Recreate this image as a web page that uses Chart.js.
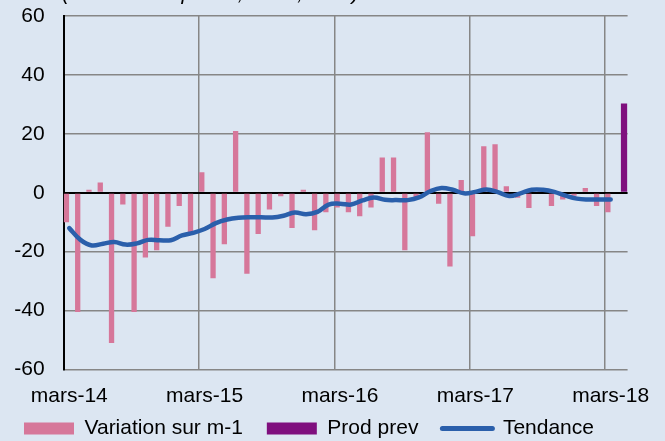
<!DOCTYPE html>
<html>
<head>
<meta charset="utf-8">
<script src="https://cdn.jsdelivr.net/npm/chart.js@4.4.0/dist/chart.umd.min.js"></script>
<style>
html,body{margin:0;padding:0;background:#dce6f2;}
canvas{display:block;}
</style>
</head>
<body>
<canvas id="c" width="665" height="441"></canvas>
<script>
const months = [
  'mars-14','avr.-14','mai-14','juin-14','juil.-14','août-14','sept.-14','oct.-14','nov.-14','déc.-14',
  'janv.-15','févr.-15','mars-15','avr.-15','mai-15','juin-15','juil.-15','août-15','sept.-15','oct.-15','nov.-15','déc.-15',
  'janv.-16','févr.-16','mars-16','avr.-16','mai-16','juin-16','juil.-16','août-16','sept.-16','oct.-16','nov.-16','déc.-16',
  'janv.-17','févr.-17','mars-17','avr.-17','mai-17','juin-17','juil.-17','août-17','sept.-17','oct.-17','nov.-17','déc.-17',
  'janv.-18','févr.-18','mars-18','avr.-18'
];
const tickLabels = ['mars-14','mars-15','mars-16','mars-17','mars-18'];

const variation = [
  -10, -40.5, 1, 3.5, -51, -4, -40.5, -22, -19.5, -11.5, -4.5, -14,
  7, -29, -17.5, 21, -27.5, -14, -5.7, -1.2, -12, 1, -12.7, -6.6,
  -5, -6.6, -8, -5, 12, 12, -19.5, -2, 20.5, -3.7, -25, 4.3,
  -14.8, 15.8, 16.5, 2.2, -1.7, -5.2, 1.5, -4.5, -2.3, -1, 1.6, -4.5,
  -6.6, null
];
const prodPrevMonth = 'avr.-18';
const prodPrevValue = 30.3;
const tendance = [
  -12, -16, -17.9, -17.3, -16.7, -17.6, -17.2, -16, -16.1, -16.1, -14.5, -13.6,
  -12.3, -10.3, -9.1, -8.5, -8.3, -8.3, -8.4, -7.8, -6.7, -7.3, -6.5, -4,
  -3.7, -4, -2.6, -1.6, -2.4, -2.5, -2.5, -1.6, 0.5, 1.6, 1.0, -0.2,
  0.3, 1.1, 0.2, -1.1, -0.2, 1.0, 1.0, 0.3, -1.0, -2.0, -2.3, -2.3,
  -2.3, null
];
const yTicks = [-60, -40, -20, 0, 20, 40, 60];
const subtitle = "(en solde d'opinion, en %, CVS)";

const prodPrev = months.map(m => m === prodPrevMonth ? prodPrevValue : null);

const FONT = 'Liberation Sans, Arial, sans-serif';
const GRID = '#868686';

const subtitlePlugin = {
  id: 'subtitleText',
  afterDraw(chart) {
    const ctx = chart.ctx;
    ctx.save();
    ctx.font = 'italic 21px ' + FONT;
    ctx.fillStyle = '#000';
    ctx.textBaseline = 'alphabetic';
    ctx.textAlign = 'left';
    ctx.fillText(subtitle, 62, 0);
    ctx.restore();
  }
};

new Chart(document.getElementById('c'), {
  type: 'bar',
  data: {
    labels: months,
    datasets: [
      {
        label: 'Variation sur m-1',
        data: variation,
        backgroundColor: '#d6779a',
        borderWidth: 0,
        categoryPercentage: 1.0,
        barPercentage: 0.94,
        order: 1
      },
      {
        label: 'Prod prev',
        data: prodPrev,
        backgroundColor: '#7f0f7e',
        borderWidth: 0,
        categoryPercentage: 0.75,
        barPercentage: 1.5,
        order: 1
      },
      {
        type: 'line',
        label: 'Tendance',
        data: tendance,
        borderColor: '#2a5fab',
        backgroundColor: '#2a5fab',
        borderWidth: 4.5,
        borderCapStyle: 'round',
        pointRadius: 0,
        pointHoverRadius: 0,
        tension: 0.4,
        fill: false,
        order: 0
      }
    ]
  },
  options: {
    responsive: false,
    animation: false,
    devicePixelRatio: 1,
    layout: { padding: { top: 16, right: 37.4, bottom: 0, left: 0 } },
    plugins: {
      tooltip: { enabled: false },
      legend: {
        position: 'bottom',
        align: 'start',
        maxHeight: 47,
        labels: {
          color: '#000',
          font: { family: FONT, size: 21 },
          padding: 24,
          usePointStyle: true,
          pointStyleWidth: 50,
          boxHeight: 12,
          sort: (a, b) => a.datasetIndex - b.datasetIndex,
          generateLabels(chart) {
            const items = Chart.defaults.plugins.legend.labels.generateLabels(chart);
            items.forEach(it => {
              const ds = chart.data.datasets[it.datasetIndex];
              if (ds.type === 'line') {
                it.pointStyle = 'line';
                it.lineWidth = 5;
                it.strokeStyle = ds.borderColor;
                it.lineCap = 'round';
              } else {
                it.pointStyle = 'rect';
                it.lineWidth = 0;
              }
            });
            return items;
          }
        }
      }
    },
    scales: {
      x: {
        offset: true,
        grid: {
          offset: true,
          drawTicks: false,
          color: ctx => (ctx.index > 0 && ctx.index < months.length && ctx.index % 12 === 0) ? GRID : 'rgba(0,0,0,0)',
          lineWidth: 1.5
        },
        border: { display: false },
        ticks: {
          autoSkip: false,
          maxRotation: 0,
          minRotation: 0,
          padding: 14,
          color: '#000',
          font: { family: FONT, size: 21 },
          callback: (val, idx) => tickLabels.includes(months[idx]) ? months[idx] : ''
        },
        afterFit: s => {
          s.height = 24.5;
          s.paddingLeft = 0; s.paddingRight = 0;
          s._computeLabelArea = function () { return undefined; };
        }
      },
      y: {
        min: -60,
        max: 60,
        afterBuildTicks: s => { s.ticks = yTicks.map(v => ({ value: v })); },
        grid: {
          drawTicks: false,
          color: ctx => (ctx.tick && ctx.tick.value === 0) ? '#000' : GRID,
          lineWidth: ctx => (ctx.tick && ctx.tick.value === 0) ? 2 : 1.5
        },
        border: { display: true, color: '#000', width: 2 },
        ticks: {
          padding: 19,
          color: '#000',
          font: { family: FONT, size: 21 }
        },
        afterFit: s => {
          s.width = 63.6;
          s.paddingTop = 0; s.paddingBottom = 0;
        }
      }
    }
  },
  plugins: [subtitlePlugin]
});
</script>
</body>
</html>
